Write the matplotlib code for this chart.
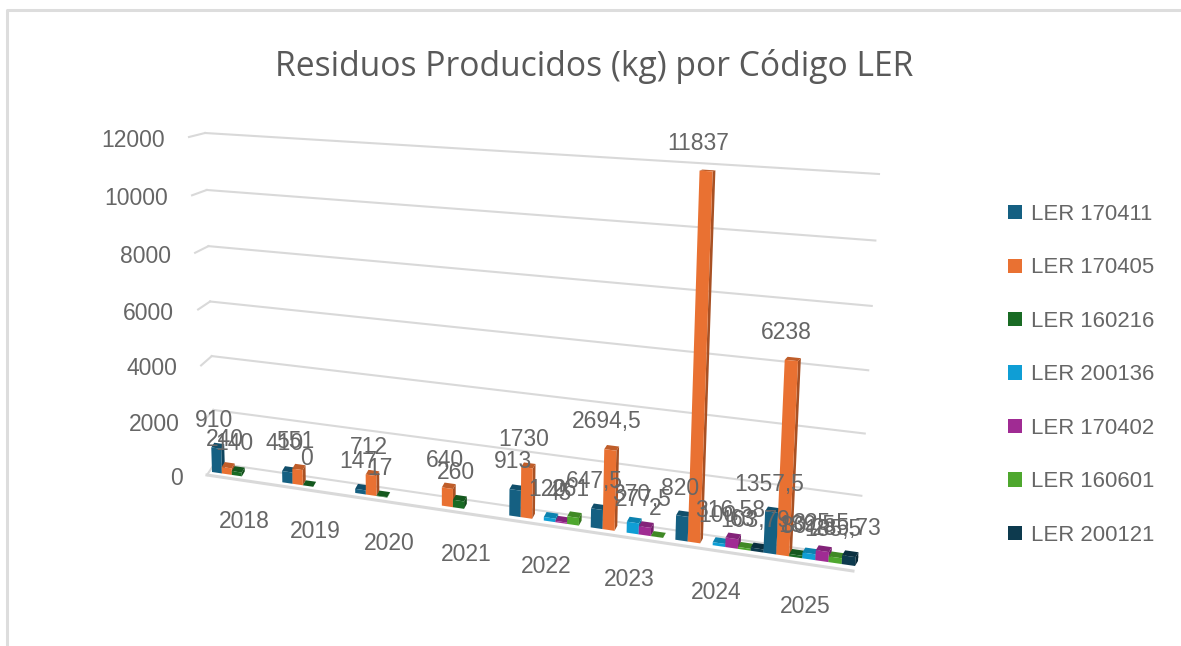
import numpy as np
import matplotlib
matplotlib.use("Agg")
import matplotlib.pyplot as plt
from matplotlib.transforms import Transform, IdentityTransform
from matplotlib.patches import Polygon, Patch
from matplotlib.lines import Line2D

# ---- data ----
years = ["2018", "2019", "2020", "2021", "2022", "2023", "2024", "2025"]
ler_170411 = [910, 410, 147, None, 913, 647.5, 820, 1357.5]
ler_170405 = [240, 551, 712, 640, 1730, 2694.5, 11837, 6238]
ler_160216 = [140, 0, 17, 260, None, None, None, 80]
ler_200136 = [None, None, None, None, 120, 370, 100, 189.5]
ler_170402 = [None, None, None, None, 45, 277.5, 316.58, 325.5]
ler_160601 = [None, None, None, None, 261, 2, 63, 185.5]
ler_200121 = [None, None, None, None, None, None, 103.79, 285.73]
series_names = ["LER 170411", "LER 170405", "LER 160216", "LER 200136",
                "LER 170402", "LER 160601", "LER 200121"]
series_values = [ler_170411, ler_170405, ler_160216, ler_200136,
                 ler_170402, ler_160601, ler_200121]
colors = ["#156082", "#E97132", "#196B24", "#0F9ED5", "#A02B93", "#4EA72E", "#0D3A4E"]
y_ticks = [0, 2000, 4000, 6000, 8000, 10000, 12000]
title = "Residuos Producidos (kg) por Código LER"

W, H = 1181, 646
YMAX = 12000
NCAT = len(years)
NSER = len(series_names)


class Projective(Transform):
    """Perspective mapping from (category, value) to display pixels."""
    input_dims = 2
    output_dims = 2
    is_separable = False
    has_inverse = False

    def __init__(self, corners):
        super().__init__()
        src = [(0, YMAX), (NCAT, YMAX), (0, 0), (NCAT, 0)]
        A, b = [], []
        for (u, v), (x, y) in zip(src, corners):
            u, v = u / NCAT, v / YMAX
            y = H - y
            A.append([u, v, 1, 0, 0, 0, -u * x, -v * x]); b.append(x)
            A.append([0, 0, 0, u, v, 1, -u * y, -v * y]); b.append(y)
        h = np.linalg.solve(np.array(A, float), np.array(b, float))
        self.M = np.append(h, 1).reshape(3, 3)

    def transform_non_affine(self, values):
        p = np.asarray(values, float).reshape(-1, 2)
        q = np.c_[p[:, 0] / NCAT, p[:, 1] / YMAX, np.ones(len(p))] @ self.M.T
        return q[:, :2] / q[:, 2:]


T_back = Projective([(205, 133), (879, 174), (215, 463), (858, 557)])
T_front = Projective([(202, 135), (876, 176), (212, 472), (855, 566)])
T_bar_rear = Projective([(205, 134), (879, 175), (215, 467), (858, 561)])


def wall_edge(v):
    """Point of the left side wall's near edge at value v."""
    x, y = T_back.transform([(0, v)])[0]
    f = v / YMAX
    return x - (8 + 8 * f), y - (12 - 8 * f)


def shade(c, k):
    return tuple(k * a for a in matplotlib.colors.to_rgb(c))


plt.rcParams["font.family"] = ["Liberation Sans", "DejaVu Sans"]
fig = plt.figure(figsize=(W / 100, H / 100), dpi=100, facecolor="white")
ax = fig.add_axes([0, 0, 1, 1])
ax.set_xlim(0, NCAT)
ax.set_ylim(0, YMAX)
ax.axis("off")
px = IdentityTransform()
GRID = "#D9D9D9"
TXT = "#666666"
FS = 16.5
lw = 1.5

# outer frame
fig.add_artist(Line2D([6.5, 6.5, W], [0, H - 9.5, H - 9.5], transform=px, color="#DDDDDD", lw=2.2))

# gridlines and side-wall stubs
for v in y_ticks:
    ax.plot([0, NCAT], [v, v], color=GRID, lw=lw, transform=T_back, zorder=1)
    x0, y0 = T_back.transform([(0, v)])[0]
    x1, y1 = wall_edge(v)
    ax.add_line(Line2D([x0, x1], [y0, y1], transform=px, color=GRID, lw=lw, zorder=1))
    ax.text(x1 - 24, y1 - 3.5, str(v), transform=px, ha="right", va="center",
            fontsize=FS, color=TXT, zorder=50)

# floor near edge
x0, y0 = wall_edge(0)
x1, y1 = T_back.transform([(NCAT, 0)])[0]
ax.add_line(Line2D([x0, x1 - 5], [y0, y1 - 14], transform=px, color=GRID, lw=2.2, zorder=1))

# bars
bw = 1 / NSER
z = 3.0
for c, vals in enumerate(zip(*series_values)):
    for s, v in enumerate(vals):
        if v is None:
            continue
        u0, u1 = c + s * bw, c + (s + 1) * bw
        col = colors[s]
        f01, f11, f00, f10 = T_front.transform([(u0, v), (u1, v), (u0, 0), (u1, 0)])
        b01, b11, b00, b10 = T_bar_rear.transform([(u0, v), (u1, v), (u0, 0), (u1, 0)])
        ax.add_patch(Polygon([f11, b11, b10, f10], closed=True, transform=px,
                             fc=shade(col, 0.72), ec="none", zorder=z))
        ax.add_patch(Polygon([f01, f11, b11, b01], closed=True, transform=px,
                             fc=shade(col, 0.82), ec="none", zorder=z + 0.001))
        ax.bar([u0], [v], width=bw, align="edge", color=col, linewidth=0,
               transform=T_front, zorder=z + 0.002)
        z += 0.01
        mx = (f01[0] + f11[0]) / 2
        my = (f01[1] + f11[1]) / 2
        ax.text(mx - 2 - 6 * v / YMAX, my + 28, f"{v:g}".replace(".", ","), transform=px,
                ha="center", va="center", fontsize=FS, color=TXT, zorder=60)

# category labels
for c, yr in enumerate(years):
    x, y = T_front.transform([(c + 0.5, 0)])[0]
    ax.text(x - 3, y - 44 - 0.4 * c, yr, transform=px, ha="center", va="center",
            fontsize=FS, color=TXT, zorder=50)

# title
ax.text(594, H - 66, title, transform=px, ha="center", va="center",
        fontsize=24.2, color="#595959", family=["Open Sans", "DejaVu Sans"], zorder=50)

# legend
handles = [Patch(facecolor=c, edgecolor="none", label=n) for c, n in zip(colors, series_names)]
leg = ax.legend(handles=handles, loc="upper left", bbox_to_anchor=(1008 / W, 1 - 204 / H),
                bbox_transform=fig.transFigure, frameon=False, fontsize=15.9,
                labelspacing=1.47, handlelength=0.62, handleheight=0.62,
                handletextpad=0.42, borderpad=0, borderaxespad=0, labelcolor=TXT)

fig.savefig("out.png", dpi=100, facecolor="white")
